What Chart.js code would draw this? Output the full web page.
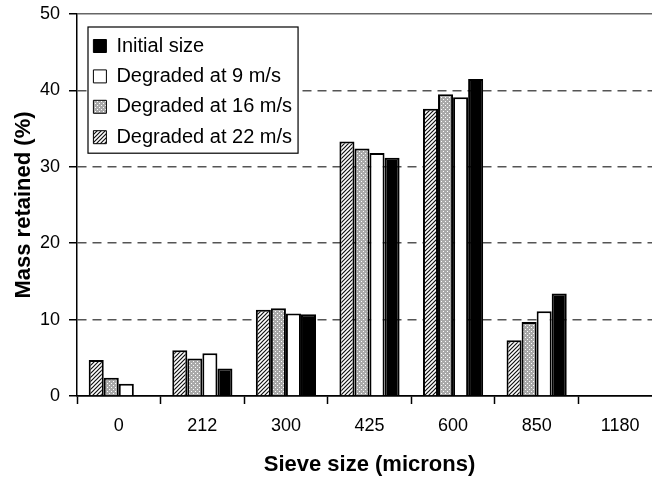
<!DOCTYPE html>
<html>
<head>
<meta charset="utf-8">
<script src="https://cdn.jsdelivr.net/npm/chart.js@4"></script>
<style>
html, body { margin: 0; padding: 0; background: #fff; overflow: hidden; }
canvas { display: block; }
</style>
</head>
<body>
<canvas id="myChart" width="662" height="478"></canvas>
<script>
// values (mass retained, %)
const sieveSizes = ["0", "212", "300", "425", "600", "850", "1180"];
const initialSize = [0, 3.6, 10.7, 31.2, 41.5, 13.4, 0];
const degraded9 = [1.6, 5.6, 10.8, 31.8, 39.1, 11.1, 0];
const degraded16 = [2.4, 4.9, 11.5, 32.4, 39.5, 9.7, 0];
const degraded22 = [4.7, 6.0, 11.3, 33.3, 37.6, 7.3, 0];
const yMin = 0, yMax = 50, yStep = 10;

Chart.defaults.font.family = "'Liberation Sans', Arial, Helvetica, sans-serif";
Chart.defaults.color = "#000";

function makePattern(size, draw) {
  const c = document.createElement("canvas");
  c.width = size;
  c.height = size;
  const g = c.getContext("2d");
  draw(g, size);
  return g.createPattern(c, "repeat");
}

// diagonal hatch
const hatch = makePattern(4, (g, s) => {
  g.fillStyle = "#fff";
  g.fillRect(0, 0, s, s);
  g.strokeStyle = "#111";
  g.lineWidth = 1.2;
  g.beginPath();
  g.moveTo(0, s); g.lineTo(s, 0);
  g.moveTo(-1, 1); g.lineTo(1, -1);
  g.moveTo(s - 1, s + 1); g.lineTo(s + 1, s - 1);
  g.stroke();
});

// grey with small white dots
const dots = makePattern(4, (g, s) => {
  g.fillStyle = "#a9a9a9";
  g.fillRect(0, 0, s, s);
  g.fillStyle = "#fff";
  g.fillRect(1, 1, 1, 1);
  g.fillRect(3, 3, 1, 1);
});

// legend sits inside the plot, with a white box and a frame
const legendFrame = {
  id: "legendFrame",
  afterLayout(chart) {
    const lg = chart.legend, area = chart.chartArea;
    const pad = lg.options.labels.padding;
    const w = lg.width;
    lg.left = area.left + 6;
    lg.top = area.top + 22 - pad;
    lg.right = lg.left + w;
    lg.bottom = area.bottom;
  },
  afterDraw(chart) {
    const lg = chart.legend, ctx = chart.ctx;
    const lab = lg.options.labels;
    const fs = lab.font.size;
    const rowH = Math.max(fs, lab.boxHeight) + lab.padding;
    const n = lg.legendItems.length;
    ctx.save();
    ctx.font = fs + "px " + Chart.defaults.font.family;
    let tw = 0;
    lg.legendItems.forEach(it => { tw = Math.max(tw, ctx.measureText(it.text).width); });
    const firstRow = lg.top + lab.padding;
    const x0 = lg.left + 5;
    const y0 = firstRow - 9;
    const x1 = lg.left + lab.padding + lab.boxWidth + fs / 2 + tw + 6;
    const y1 = firstRow + (n - 1) * rowH + fs + 6;
    ctx.fillStyle = "#fff";
    ctx.fillRect(x0, y0, x1 - x0, y1 - y0);
    ctx.strokeStyle = "#000";
    ctx.lineWidth = 1.2;
    ctx.strokeRect(x0, y0, x1 - x0, y1 - y0);
    ctx.restore();
    lg.draw();
  }
};

const ctx = document.getElementById("myChart");

new Chart(ctx, {
  type: "bar",
  data: {
    labels: sieveSizes,
    datasets: [
      { label: "Degraded at 22 m/s", data: degraded22, backgroundColor: hatch },
      { label: "Degraded at 16 m/s", data: degraded16, backgroundColor: dots },
      { label: "Degraded at 9 m/s", data: degraded9, backgroundColor: "#fff" },
      { label: "Initial size", data: initialSize, backgroundColor: "#000" },
    ],
  },
  options: {
    responsive: false,
    devicePixelRatio: 1,
    animation: false,
    datasets: {
      bar: {
        borderColor: "#000",
        borderWidth: 2,
        categoryPercentage: 0.72,
        barPercentage: 1,
      },
    },
    layout: { padding: { top: 14, right: 0, bottom: 0, left: 0 } },
    plugins: {
      legend: {
        position: "chartArea",
        align: "start",
        reverse: true,
        labels: {
          font: { size: 20 },
          color: "#000",
          boxWidth: 13,
          boxHeight: 13,
          padding: 10.4,
          generateLabels(chart) {
            return Chart.defaults.plugins.legend.labels.generateLabels(chart)
              .map(l => ({ ...l, lineWidth: 1 }));
          },
        },
      },
      tooltip: { enabled: false },
    },
    scales: {
      x: {
        grid: {
          drawOnChartArea: false,
          drawTicks: true,
          tickLength: 8,
          tickColor: "#000",
          tickWidth: 1.5,
          offset: true,
        },
        border: { color: "#000", width: 1.5 },
        ticks: { font: { size: 18 }, color: "#000", padding: 11 },
        title: {
          display: true,
          text: "Sieve size (microns)",
          font: { size: 22, weight: "bold" },
          color: "#000",
          padding: { top: 0, bottom: 0 },
        },
        afterFit(scale) {
          scale.height = 82;
          scale.paddingLeft = 0;
          scale.paddingRight = 0;
        },
      },
      y: {
        min: yMin,
        max: yMax,
        ticks: { stepSize: yStep, font: { size: 18 }, color: "#000", padding: 9 },
        grid: {
          color: c => c.tick.value === yMax ? "#666" : (c.tick.value === yMin ? "#000" : "#555"),
          lineWidth: 1.5,
          tickLength: 8,
          tickColor: "#000",
          tickWidth: 1.5,
        },
        border: {
          color: "#000",
          width: 1.5,
          dash: c => (c.tick && c.tick.value > yMin && c.tick.value < yMax) ? [9, 6] : [],
        },
        title: {
          display: true,
          text: "Mass retained (%)",
          font: { size: 22, weight: "bold" },
          color: "#000",
          padding: { top: 11, bottom: 0 },
        },
        afterFit(scale) {
          scale.width = 77;
          scale.paddingTop = 0;
          scale.paddingBottom = 0;
        },
      },
    },
  },
  plugins: [legendFrame],
});
</script>
</body>
</html>
